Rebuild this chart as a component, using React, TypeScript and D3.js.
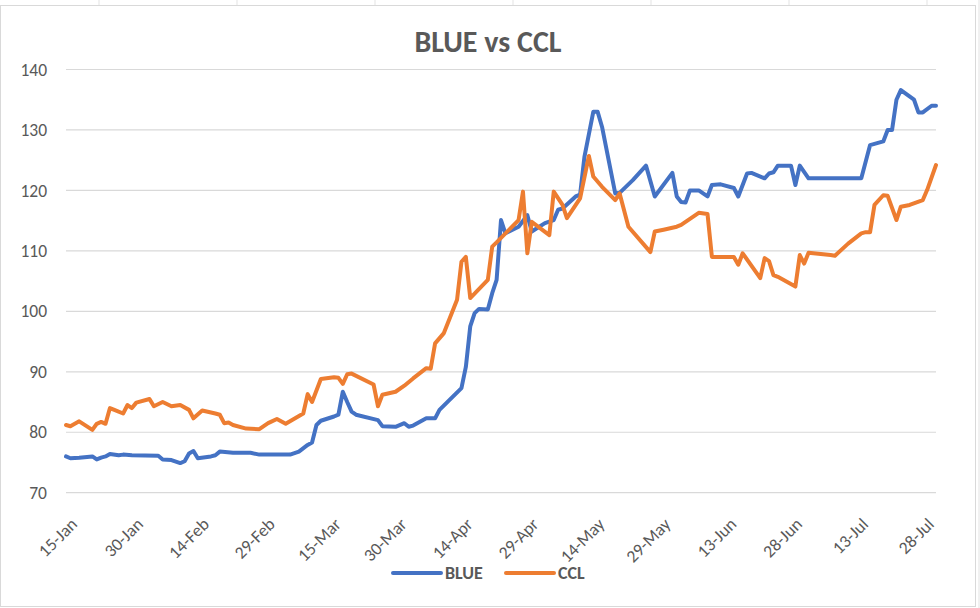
import React, { useEffect, useRef } from 'react';
import * as d3 from 'd3';

const title = "BLUE vs CCL";
const seriesNames = ["BLUE", "CCL"];
const seriesColors = ["#4472C4", "#ED7D31"];

const yTicks = [70, 80, 90, 100, 110, 120, 130, 140];
const xTickLabels = [
  "15-Jan", "30-Jan", "14-Feb", "29-Feb", "15-Mar", "30-Mar", "14-Apr",
  "29-Apr", "14-May", "29-May", "13-Jun", "28-Jun", "13-Jul", "28-Jul"
];

const blueDates = [
  "01-15", "01-16", "01-18", "01-21", "01-22", "01-23", "01-24", "01-25", "01-27", "01-28",
  "01-30", "02-05", "02-06", "02-08", "02-10", "02-11", "02-12", "02-13", "02-14", "02-17",
  "02-18", "02-19", "02-22", "02-26", "02-28", "03-06", "03-08", "03-10", "03-11", "03-12",
  "03-13", "03-16", "03-17", "03-18", "03-19", "03-20", "03-21", "03-26", "03-27", "03-30",
  "04-01", "04-02", "04-03", "04-06", "04-08", "04-09", "04-14", "04-15", "04-16", "04-17",
  "04-18", "04-20", "04-21", "04-22", "04-23", "04-24", "04-27", "04-29", "04-30", "05-03",
  "05-05", "05-06", "05-07", "05-10", "05-11", "05-12", "05-14", "05-15", "05-16", "05-19",
  "05-20", "05-23", "05-26", "05-28", "06-01", "06-02", "06-03", "06-04", "06-05", "06-07",
  "06-09", "06-10", "06-12", "06-15", "06-16", "06-18", "06-19", "06-22", "06-23", "06-24",
  "06-25", "06-28", "06-29", "06-30", "07-02", "07-14", "07-16", "07-19", "07-20", "07-21",
  "07-22", "07-23", "07-26", "07-27", "07-28", "07-30", "07-31"
];
const blueValues = [
  76.0, 75.7, 75.8, 76.0, 75.5, 75.8, 76.0, 76.4, 76.2, 76.3,
  76.2, 76.1, 75.5, 75.4, 74.9, 75.2, 76.5, 76.9, 75.7, 76.0,
  76.2, 76.8, 76.6, 76.6, 76.3, 76.3, 76.8, 77.9, 78.3, 81.2,
  81.9, 82.6, 82.9, 86.7, 85.0, 83.4, 82.9, 82.0, 81.0, 80.9,
  81.5, 80.9, 81.1, 82.3, 82.3, 83.7, 87.3, 90.8, 97.5, 99.7,
  100.4, 100.3, 103.0, 105.2, 115.1, 112.9, 114.0, 115.9, 113.2, 114.6,
  115.1, 116.8, 117.0, 119.0, 119.3, 125.6, 133.0, 133.0, 130.5, 119.5,
  119.6, 121.7, 124.1, 119.0, 122.9, 119.0, 118.1, 118.0, 120.0, 120.0,
  119.0, 120.9, 121.0, 120.4, 119.0, 122.8, 122.9, 122.0, 122.8, 123.0,
  124.1, 124.1, 120.9, 124.1, 122.0, 122.0, 127.5, 128.1, 130.0, 130.0,
  135.0, 136.6, 135.0, 132.9, 132.9, 134.0, 134.0
];

const cclDates = [
  "01-15", "01-16", "01-18", "01-21", "01-22", "01-23", "01-24", "01-25", "01-26", "01-28",
  "01-29", "01-30", "01-31", "02-03", "02-04", "02-06", "02-08", "02-10", "02-12", "02-13",
  "02-15", "02-18", "02-19", "02-20", "02-21", "02-22", "02-25", "02-28", "03-01", "03-03",
  "03-05", "03-09", "03-10", "03-11", "03-13", "03-16", "03-17", "03-18", "03-19", "03-20",
  "03-25", "03-26", "03-27", "03-30", "04-01", "04-03", "04-06", "04-07", "04-08", "04-10",
  "04-13", "04-14", "04-15", "04-16", "04-20", "04-21", "04-22", "04-27", "04-28", "04-29",
  "04-30", "05-04", "05-05", "05-07", "05-08", "05-11", "05-13", "05-14", "05-16", "05-19",
  "05-20", "05-22", "05-27", "05-28", "05-30", "06-02", "06-03", "06-04", "06-07", "06-09",
  "06-10", "06-15", "06-16", "06-17", "06-21", "06-22", "06-23", "06-24", "06-25", "06-29",
  "06-30", "07-01", "07-02", "07-07", "07-08", "07-11", "07-14", "07-15", "07-16", "07-17",
  "07-19", "07-20", "07-22", "07-23", "07-25", "07-28", "07-29", "07-31"
];
const cclValues = [
  81.2, 81.0, 81.8, 80.4, 81.4, 81.7, 81.4, 84.0, 83.7, 83.1,
  84.5, 84.0, 84.9, 85.5, 84.3, 85.0, 84.3, 84.5, 83.7, 82.3,
  83.6, 83.1, 82.9, 81.5, 81.6, 81.2, 80.6, 80.5, 81.5, 82.2,
  81.4, 83.1, 86.3, 85.0, 88.8, 89.1, 89.0, 88.0, 89.6, 89.7,
  87.9, 84.3, 86.2, 86.7, 87.7, 88.9, 90.6, 90.5, 94.7, 96.4,
  101.9, 108.2, 109.0, 102.2, 105.2, 110.7, 111.4, 115.1, 119.8, 109.6,
  114.8, 112.6, 119.8, 117.6, 115.4, 118.7, 125.7, 122.3, 120.6, 118.4,
  119.5, 114.0, 109.8, 113.2, 113.5, 114.0, 114.3, 114.8, 116.3, 116.1,
  109.0, 109.0, 107.7, 109.6, 105.5, 108.8, 108.3, 106.0, 105.7, 104.1,
  109.3, 107.9, 109.7, 109.3, 109.2, 111.2, 112.9, 113.1, 113.1, 117.6,
  119.2, 119.1, 115.1, 117.3, 117.6, 118.4, 120.1, 124.2
];

const W = 980;
const H = 608;
const FONT = "Calibri, Carlito, Lato, sans-serif";
const TEXT = "#595959";

const parseDay = d3.timeParse("%Y-%m-%d");
const parseLabel = d3.timeParse("%d-%b-%Y");

const App: React.FC = () => {
  const svgRef = useRef<SVGSVGElement>(null);

  useEffect(() => {
    if (!svgRef.current) return;
    const svg = d3.select(svgRef.current);
    svg.selectAll("*").remove();

    // sheet grid peeking out around the chart frame
    const sheet = svg.append("g").attr("stroke", "#e3e3e3");
    d3.range(99, W, 138).forEach(x => {
      sheet.append("line").attr("x1", x).attr("x2", x).attr("y1", 0).attr("y2", 5);
    });
    sheet.append("line").attr("x1", 979).attr("x2", 979).attr("y1", 0).attr("y2", H);

    svg.append("rect")
      .attr("x", 0.5).attr("y", 5.5)
      .attr("width", 975).attr("height", 601)
      .attr("fill", "white")
      .attr("stroke", "#d9d9d9");

    const x = d3.scaleTime()
      .domain([parseDay("2020-01-15")!, parseDay("2020-07-31")!])
      .range([66, 936]);
    const y = d3.scaleLinear().domain([70, 140]).range([492.7, 69.5]);

    // gridlines
    svg.append("g")
      .selectAll("line")
      .data(yTicks)
      .enter().append("line")
      .attr("x1", 66).attr("x2", 936)
      .attr("y1", d => y(d)).attr("y2", d => y(d))
      .attr("stroke", "#d9d9d9")
      .attr("stroke-width", 1.2);

    svg.append("g")
      .selectAll("text")
      .data(yTicks)
      .enter().append("text")
      .attr("x", 47)
      .attr("y", d => y(d))
      .attr("dy", "0.35em")
      .attr("text-anchor", "end")
      .style("font-family", FONT)
      .style("font-size", "17.5px")
      .style("fill", TEXT)
      .text(d => d);

    svg.append("g")
      .selectAll("text")
      .data(xTickLabels)
      .enter().append("text")
      .attr("transform", d => `translate(${x(parseLabel(d + "-2020")!) + 8}, ${521}) rotate(-45)`)
      .attr("dy", "0.35em")
      .attr("text-anchor", "end")
      .style("font-family", FONT)
      .style("font-size", "17.5px")
      .style("fill", TEXT)
      .text(d => d);

    const line = d3.line<[Date, number]>()
      .x(d => x(d[0]))
      .y(d => y(d[1]));

    const series: Array<[Date, number][]> = [
      blueDates.map((d, i) => [parseDay("2020-" + d)!, blueValues[i]]),
      cclDates.map((d, i) => [parseDay("2020-" + d)!, cclValues[i]])
    ];

    // CCL drawn after BLUE so it sits on top, as in Excel
    series.forEach((s, i) => {
      svg.append("path")
        .datum(s)
        .attr("d", line)
        .attr("fill", "none")
        .attr("stroke", seriesColors[i])
        .attr("stroke-width", 4)
        .attr("stroke-linejoin", "round")
        .attr("stroke-linecap", "round");
    });

    svg.append("text")
      .attr("x", 488)
      .attr("y", 52)
      .attr("text-anchor", "middle")
      .style("font-family", FONT)
      .style("font-size", "30px")
      .style("font-weight", "bold")
      .style("fill", TEXT)
      .text(title);

    const legendX = [393, 506];
    seriesNames.forEach((name, i) => {
      const g = svg.append("g").attr("transform", `translate(${legendX[i]}, 573)`);
      g.append("line")
        .attr("x1", 0).attr("x2", 48)
        .attr("stroke", seriesColors[i])
        .attr("stroke-width", 4)
        .attr("stroke-linecap", "round");
      g.append("text")
        .attr("x", 52)
        .attr("dy", "0.35em")
        .style("font-family", FONT)
        .style("font-size", "18px")
        .style("font-weight", "bold")
        .style("fill", TEXT)
        .text(name);
    });
  }, []);

  return (
    <svg
      ref={svgRef}
      width={W}
      height={H}
      style={{ position: 'absolute', left: 0, top: 0, background: 'white' }}
    />
  );
};

export default App;
